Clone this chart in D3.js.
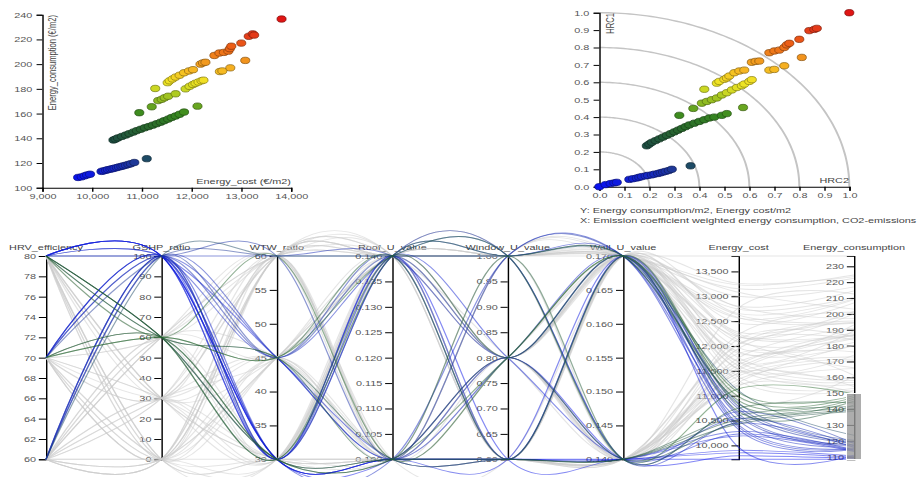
<!DOCTYPE html>
<html>
<head>
<meta charset="utf-8">
<script src="https://cdn.jsdelivr.net/npm/d3@7"></script>
<style>
  body { margin: 0; background: #fff; }
  svg { font-family: "Liberation Sans", Arial, sans-serif; display: block; }
  .axis path, .axis line { stroke: #000; }
  .axis text { fill: #555; font-size: 7.6px; }
  .title { fill: #444; font-size: 7.6px; }
  .arc { fill: none; stroke: #c4c4c4; stroke-width: 1.4; }
  .pline { fill: none; stroke-width: 0.9; }
  .brush .selection { fill: #999; fill-opacity: 0.8; stroke: #fff; }
</style>
</head>
<body>
<svg id="chart"></svg>
<script>
// the picture is stretched horizontally, so we draw in a narrower box and let the viewBox widen it
const SX = 1.43;
const W = 923 / SX, H = 477;
const px = v => v / SX;

// ---- data, one entry per design (bands: GSHP 100, 60, 30, 0) ----
let energyCost = [
  9720, 9790, 9850, 9900, 9960, 10190, 10230, 10280, 10320, 10370, 10410, 10450, 10500, 10540, 10590, 10630, 10680, 10730, 10780, 10850, 11100,
  10430, 10470, 10520, 10600, 10680, 10750, 10830, 10900, 10980, 11060, 11140, 11220, 11300, 11380, 11450, 11530, 11600, 11680, 11760, 11850, 10950, 12120,
  11200, 11330, 11400, 11460, 11530, 11680, 11880, 11960, 12030, 12080, 12140, 12200, 12240, 12570, 12620, 12780, 13080,
  11270, 11520, 11560, 11620, 11680, 11760, 11850, 11950, 12030, 12180, 12230, 12280, 12460, 12560, 12650, 12740, 12770, 12800, 13000, 13150, 13230, 13260, 13810
];
let energyConsumption = [
  108.3, 108.8, 109.6, 110.3, 110.9, 113.2, 113.6, 114.1, 114.6, 115.0, 115.4, 115.8, 116.3, 116.8, 117.2, 117.7, 118.2, 118.8, 119.4, 120.4, 123.5,
  138.6, 139.3, 140.3, 141.5, 142.6, 143.8, 145.0, 146.2, 147.3, 148.5, 149.5, 150.6, 151.8, 153.0, 154.2, 155.5, 156.8, 158.0, 159.4, 161.2, 160.7, 166.0,
  165.5, 170.5, 171.5, 172.8, 174.0, 176.0, 180.0, 182.0, 183.5, 184.5, 185.5, 186.5, 187.0, 194.0, 194.5, 197.0, 203.0,
  180.3, 185.0, 186.5, 188.0, 189.5, 191.0, 193.0, 194.5, 195.5, 200.0, 201.0, 201.5, 207.0, 209.0, 209.5, 210.5, 212.5, 214.5, 217.0, 222.5, 224.5, 223.5, 236.5
];
let hrc2 = [
  0.0, 0.025, 0.045, 0.06, 0.07, 0.12, 0.135, 0.15, 0.16, 0.17, 0.185, 0.195, 0.21, 0.22, 0.235, 0.245, 0.255, 0.265, 0.278, 0.29, 0.365,
  0.19, 0.2, 0.21, 0.225, 0.24, 0.255, 0.27, 0.285, 0.3, 0.315, 0.33, 0.345, 0.36, 0.38, 0.4, 0.42, 0.44, 0.46, 0.49, 0.51, 0.32, 0.575,
  0.376, 0.41, 0.43, 0.45, 0.47, 0.49, 0.51, 0.53, 0.55, 0.57, 0.58, 0.6, 0.61, 0.68, 0.7, 0.74, 0.81,
  0.42, 0.47, 0.48, 0.5, 0.51, 0.52, 0.54, 0.56, 0.58, 0.61, 0.625, 0.64, 0.68, 0.7, 0.72, 0.74, 0.75, 0.76, 0.8, 0.84, 0.86, 0.87, 1.0
];
let hrc1 = [
  0.0, 0.012, 0.018, 0.022, 0.025, 0.042, 0.046, 0.05, 0.054, 0.058, 0.062, 0.065, 0.068, 0.072, 0.076, 0.08, 0.084, 0.088, 0.093, 0.1, 0.12,
  0.235, 0.245, 0.255, 0.265, 0.275, 0.285, 0.295, 0.305, 0.315, 0.325, 0.335, 0.345, 0.355, 0.365, 0.375, 0.385, 0.395, 0.4, 0.41, 0.42, 0.41, 0.455,
  0.45, 0.48, 0.49, 0.5, 0.51, 0.527, 0.54, 0.556, 0.57, 0.58, 0.59, 0.605, 0.615, 0.67, 0.674, 0.695, 0.743,
  0.56, 0.595, 0.605, 0.617, 0.625, 0.636, 0.655, 0.665, 0.67, 0.715, 0.72, 0.722, 0.77, 0.78, 0.785, 0.8, 0.815, 0.824, 0.847, 0.897, 0.904, 0.91, 1.0
];
let hrvEfficiency = [
  80, 80, 80, 70, 80, 80, 70, 60, 80, 70, 60, 80, 70, 60, 80, 70, 60, 80, 60, 70, 60,
  80, 80, 80, 70, 80, 80, 70, 80, 70, 80, 70, 60, 60, 70, 60, 80, 60, 70, 60, 60, 70, 60,
  80, 80, 80, 70, 80, 70, 80, 70, 60, 80, 60, 70, 60, 60, 70, 60, 60,
  80, 80, 80, 70, 80, 70, 80, 70, 60, 80, 60, 70, 60, 70, 60, 80, 60, 70, 60, 60, 70, 60, 60
];
let gshpRatio = [
  100, 100, 100, 100, 100, 100, 100, 100, 100, 100, 100, 100, 100, 100, 100, 100, 100, 100, 100, 100, 100,
  60, 60, 60, 60, 60, 60, 60, 60, 60, 60, 60, 60, 60, 60, 60, 60, 60, 60, 60, 60, 60, 60,
  30, 30, 30, 30, 30, 30, 30, 30, 30, 30, 30, 30, 30, 30, 30, 30, 30,
  0, 0, 0, 0, 0, 0, 0, 0, 0, 0, 0, 0, 0, 0, 0, 0, 0, 0, 0, 0, 0, 0, 0
];
let wtwRatio = [
  30, 30, 30, 30, 30, 45, 30, 30, 30, 45, 30, 45, 30, 45, 60, 45, 30, 60, 45, 60, 60,
  30, 30, 45, 30, 30, 45, 45, 30, 30, 60, 45, 30, 45, 60, 30, 60, 45, 60, 60, 60, 30, 60,
  30, 30, 45, 30, 30, 45, 45, 30, 30, 60, 45, 60, 30, 45, 60, 60, 60,
  30, 30, 45, 30, 30, 45, 45, 30, 30, 60, 45, 60, 30, 45, 45, 60, 60, 60, 45, 60, 60, 60, 60
];
let roofU = [
  0.10, 0.10, 0.14, 0.10, 0.10, 0.10, 0.14, 0.10, 0.14, 0.10, 0.14, 0.14, 0.10, 0.10, 0.14, 0.14, 0.14, 0.10, 0.14, 0.14, 0.14,
  0.10, 0.10, 0.10, 0.10, 0.14, 0.10, 0.14, 0.14, 0.10, 0.10, 0.14, 0.10, 0.10, 0.14, 0.14, 0.14, 0.14, 0.10, 0.10, 0.14, 0.14, 0.14,
  0.10, 0.10, 0.10, 0.10, 0.14, 0.10, 0.14, 0.14, 0.10, 0.10, 0.10, 0.14, 0.14, 0.14, 0.14, 0.10, 0.14,
  0.10, 0.10, 0.10, 0.10, 0.14, 0.10, 0.14, 0.14, 0.10, 0.10, 0.10, 0.14, 0.14, 0.14, 0.14, 0.14, 0.10, 0.14, 0.14, 0.10, 0.14, 0.14, 0.14
];
let windowU = [
  0.6, 0.8, 0.6, 0.6, 0.6, 0.6, 0.8, 0.6, 1.0, 0.8, 0.6, 1.0, 1.0, 0.8, 0.8, 0.6, 1.0, 1.0, 0.8, 1.0, 1.0,
  0.6, 0.8, 0.6, 0.6, 0.8, 1.0, 0.6, 1.0, 0.8, 0.8, 1.0, 0.6, 0.8, 0.6, 1.0, 1.0, 0.8, 1.0, 0.6, 0.8, 0.6, 1.0,
  0.6, 0.8, 0.6, 0.6, 0.6, 0.8, 1.0, 0.8, 0.6, 0.8, 1.0, 0.6, 0.8, 1.0, 1.0, 0.8, 1.0,
  0.6, 0.8, 0.6, 0.6, 0.6, 0.8, 0.8, 1.0, 0.6, 1.0, 0.8, 0.6, 0.8, 1.0, 0.6, 1.0, 0.8, 0.8, 1.0, 1.0, 1.0, 0.8, 1.0
];
let wallU = [
  0.14, 0.14, 0.14, 0.14, 0.17, 0.14, 0.14, 0.14, 0.17, 0.17, 0.17, 0.14, 0.17, 0.14, 0.17, 0.17, 0.14, 0.17, 0.17, 0.17, 0.17,
  0.14, 0.14, 0.14, 0.14, 0.17, 0.14, 0.17, 0.17, 0.17, 0.17, 0.14, 0.14, 0.17, 0.17, 0.14, 0.17, 0.17, 0.17, 0.17, 0.14, 0.17, 0.17,
  0.14, 0.14, 0.14, 0.14, 0.17, 0.14, 0.17, 0.17, 0.14, 0.17, 0.14, 0.17, 0.17, 0.17, 0.17, 0.17, 0.17,
  0.14, 0.14, 0.14, 0.14, 0.17, 0.14, 0.17, 0.14, 0.14, 0.17, 0.14, 0.17, 0.17, 0.17, 0.17, 0.17, 0.14, 0.17, 0.17, 0.17, 0.17, 0.17, 0.17
];

// tick labels
let costTicks = [9000, 10000, 11000, 12000, 13000, 14000];
let consTicks = [100, 120, 140, 160, 180, 200, 220, 240];
let hrcTicks = [0, 0.1, 0.2, 0.3, 0.4, 0.5, 0.6, 0.7, 0.8, 0.9, 1.0];
let arcRadii = [0.2, 0.4, 0.6, 0.8, 1.0];
let dims = ['HRV_efficiency', 'GSHP_ratio', 'WTW_ratio', 'Roof_U_value', 'Window_U_value', 'Wall_U_value', 'Energy_cost', 'Energy_consumption'];
let dimTicks = {
  HRV_efficiency: [60, 62, 64, 66, 68, 70, 72, 74, 76, 78, 80],
  GSHP_ratio: [0, 10, 20, 30, 40, 50, 60, 70, 80, 90, 100],
  WTW_ratio: [30, 35, 40, 45, 50, 55, 60],
  Roof_U_value: [0.100, 0.105, 0.110, 0.115, 0.120, 0.125, 0.130, 0.135, 0.140],
  Window_U_value: [0.60, 0.65, 0.70, 0.75, 0.80, 0.85, 0.90, 0.95, 1.00],
  Wall_U_value: [0.140, 0.145, 0.150, 0.155, 0.160, 0.165, 0.170],
  Energy_cost: [10000, 10500, 11000, 11500, 12000, 12500, 13000, 13500],
  Energy_consumption: [110, 120, 130, 140, 150, 160, 170, 180, 190, 200, 210, 220, 230]
};
let dimFormat = {
  HRV_efficiency: d3.format('d'), GSHP_ratio: d3.format('d'), WTW_ratio: d3.format('d'),
  Roof_U_value: d3.format('.3f'), Window_U_value: d3.format('.2f'), Wall_U_value: d3.format('.3f'),
  Energy_cost: d3.format(','), Energy_consumption: d3.format('d')
};
let brushRange = [108, 150]; // Energy_consumption selection

let dimValues = {
  HRV_efficiency: hrvEfficiency, GSHP_ratio: gshpRatio, WTW_ratio: wtwRatio,
  Roof_U_value: roofU, Window_U_value: windowU, Wall_U_value: wallU,
  Energy_cost: energyCost, Energy_consumption: energyConsumption
};

let points = energyCost.map((c, i) => {
  let p = { i: i, cost: c, cons: energyConsumption[i], hrc1: hrc1[i], hrc2: hrc2[i] };
  dims.forEach(k => p[k] = dimValues[k][i]);
  return p;
});

let colour = d3.scaleLinear()
  .domain([108, 116, 121, 124, 139, 150, 160, 168, 178, 186, 195, 205, 215, 225, 237])
  .range(['#0a12f0', '#1628c4', '#1f3a92', '#1d4d5c', '#1f4f42', '#296a2c', '#38891f', '#78b020',
          '#bcd222', '#f0e424', '#f6b822', '#f08a1c', '#ec5c16', '#e2341a', '#e01414']);

let svg = d3.select('#chart')
  .attr('width', 923).attr('height', H)
  .attr('viewBox', `0 0 ${W} ${H}`)
  .attr('preserveAspectRatio', 'none');

// ---------- scatter: cost vs consumption ----------
let xCost = d3.scaleLinear().domain(d3.extent(costTicks)).range([px(42.3), px(291)]);
let yCons = d3.scaleLinear().domain(d3.extent(consTicks)).range([187.7, 14.7]);

let gS = svg.append('g').attr('class', 'scatter');
gS.append('g').attr('class', 'axis')
  .attr('transform', 'translate(0,187.7)')
  .call(d3.axisBottom(xCost).tickValues(costTicks).tickFormat(d3.format(',')).tickSize(4).tickPadding(2));
gS.append('g').attr('class', 'axis')
  .attr('transform', `translate(${px(42.3)},0)`)
  .call(d3.axisLeft(yCons).tickValues(consTicks).tickSize(4).tickPadding(3));

gS.append('text').attr('class', 'title')
  .attr('x', px(291)).attr('y', 184.5)
  .style('text-anchor', 'end')
  .text('Energy_cost (€/m2)');
gS.append('text').attr('class', 'title')
  .attr('transform', `translate(${px(48)},15) rotate(-90)`)
  .attr('dy', '.71em')
  .style('text-anchor', 'end')
  .text('Energy_consumption (€/m2)');

gS.selectAll('ellipse.dot')
  .data(points)
  .join('circle')
  .attr('cx', d => xCost(d.cost))
  .attr('cy', d => yCons(d.cons))
  .attr('r', 3.2)
  .attr('fill', d => colour(d.cons))
  .attr('stroke', d => d3.color(colour(d.cons)).darker(1.6))
  .attr('stroke-width', 0.6);

// ---------- HRC plot ----------
let xH = d3.scaleLinear().domain([0, 1]).range([px(599.3), px(849.3)]);
let yH = d3.scaleLinear().domain([0, 1]).range([186.7, 12.7]);

let gH = svg.append('g').attr('class', 'hrc');
let arcLine = d3.line().x(d => xH(d[0])).y(d => yH(d[1]));
gH.selectAll('.arc')
  .data(arcRadii)
  .join('path')
  .attr('class', 'arc')
  .attr('d', r => arcLine(d3.range(0, 91, 1).map(a => [r * Math.cos(a * Math.PI / 180), r * Math.sin(a * Math.PI / 180)])));

gH.append('g').attr('class', 'axis')
  .attr('transform', 'translate(0,186.7)')
  .call(d3.axisBottom(xH).tickValues(hrcTicks).tickFormat(d3.format('.1f')).tickSize(4).tickPadding(2));
gH.append('g').attr('class', 'axis')
  .attr('transform', `translate(${px(599.3)},0)`)
  .call(d3.axisLeft(yH).tickValues(hrcTicks).tickFormat(d3.format('.1f')).tickSize(4).tickPadding(3));

gH.append('text').attr('class', 'title')
  .attr('transform', `translate(${px(606)},13) rotate(-90)`)
  .attr('dy', '.71em')
  .style('text-anchor', 'end')
  .text('HRC1');
gH.append('text').attr('class', 'title')
  .attr('x', px(849)).attr('y', 183)
  .style('text-anchor', 'end')
  .text('HRC2');
gH.append('text').attr('class', 'title')
  .attr('x', px(580)).attr('y', 213.5)
  .text('Y: Energy consumption/m2, Energy cost/m2');
gH.append('text').attr('class', 'title')
  .attr('x', px(580)).attr('y', 223.5)
  .text('X: Emission coefficient weighted energy consumption, CO2-emissions');

gH.selectAll('circle')
  .data(points)
  .join('circle')
  .attr('cx', d => xH(d.hrc2))
  .attr('cy', d => yH(d.hrc1))
  .attr('r', 3.2)
  .attr('fill', d => colour(d.cons))
  .attr('stroke', d => d3.color(colour(d.cons)).darker(1.6))
  .attr('stroke-width', 0.6);

// ---------- parallel coordinates ----------
let pTop = 256, pBottom = 459.3;
let xP = d3.scalePoint().domain(dims).range([px(46), px(854)]);
let yP = {};
dims.forEach(k => {
  yP[k] = d3.scaleLinear().domain(d3.extent(dimValues[k])).range([pBottom, pTop]);
});

let gP = svg.append('g').attr('class', 'parallel');

let gAxes = gP.append('g').attr('class', 'axes');
dims.forEach(k => {
  let a = gAxes.append('g').attr('class', 'axis')
    .attr('transform', `translate(${xP(k)},0)`)
    .call(d3.axisLeft(yP[k]).tickValues(dimTicks[k]).tickFormat(dimFormat[k]).tickSize(5).tickPadding(2));
  a.append('text')
    .attr('class', 'title')
    .attr('y', 250)
    .style('text-anchor', 'middle')
    .style('fill', '#444')
    .text(k);
});

let pathLine = d3.line().curve(d3.curveCardinal);
let linePath = d => pathLine(dims.map(k => [xP(k), yP[k](d[k])]));

let gLines = gP.append('g').attr('class', 'lines');

function updateLines(range) {
  let sel = d => d.cons >= range[0] && d.cons <= range[1];
  let ordered = points.slice().sort((a, b) => sel(a) - sel(b));
  gLines.selectAll('.pline')
    .data(ordered, d => d.i)
    .join('path')
    .attr('class', 'pline')
    .attr('d', linePath)
    .attr('stroke', d => sel(d) ? colour(d.cons) : '#cccccc')
    .attr('stroke-opacity', d => sel(d) ? 0.5 : 0.5)
    .order();
}
updateLines(brushRange);

// brush on Energy_consumption
let yC = yP['Energy_consumption'];
let brush = d3.brushY()
  .extent([[-px(7.5), pTop], [px(7.5), pBottom]])
  .on('brush end', function (event) {
    if (!event.selection) { updateLines([-Infinity, Infinity]); return; }
    updateLines(event.selection.map(yC.invert).reverse());
  });
let gBrush = gP.append('g').attr('class', 'brush')
  .attr('transform', `translate(${xP('Energy_consumption')},0)`)
  .call(brush);
gBrush.call(brush.move, [yC(brushRange[1]), Math.min(pBottom, yC(brushRange[0]))]);
</script>
</body>
</html>
